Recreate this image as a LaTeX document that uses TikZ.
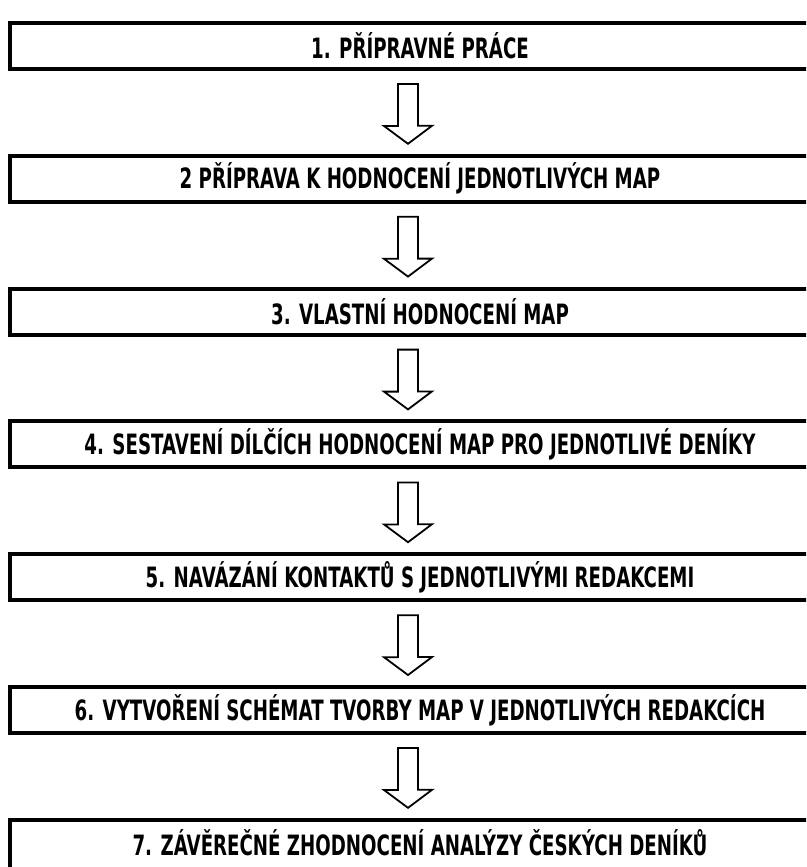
\documentclass[tikz,border=0pt]{standalone}
\usepackage{fontspec}
\newfontfamily\stagefont{DejaVu Sans}[FakeStretch=0.65]
\usetikzlibrary{positioning,calc}
\tikzset{
  stage/.style={draw, line width=4pt, minimum width=820pt, minimum height=46pt,
    inner sep=0pt, font=\stagefont\bfseries\fontsize{28}{28}\selectfont},
  flow/.style={draw, line width=1.8pt, fill=white, line join=miter}
}

\begin{document}
\begin{tikzpicture}[node distance=82.8pt]
  \path[use as bounding box, clip] (0,0) rectangle (806pt,-867pt);
  % Stages
  \node[stage] (s1) at (420pt,-46pt) {1. PŘÍPRAVNÉ PRÁCE};
  \node[stage, below=of s1] (s2) {2 PŘÍPRAVA K HODNOCENÍ JEDNOTLIVÝCH MAP};
  \node[stage, below=of s2] (s3) {3. VLASTNÍ HODNOCENÍ MAP};
  \node[stage, below=of s3] (s4) {4. SESTAVENÍ DÍLČÍCH HODNOCENÍ MAP PRO JEDNOTLIVÉ DENÍKY};
  \node[stage, below=of s4] (s5) {5. NAVÁZÁNÍ KONTAKTŮ S JEDNOTLIVÝMI REDAKCEMI};
  \node[stage, below=of s5] (s6) {6. VYTVOŘENÍ SCHÉMAT TVORBY MAP V JEDNOTLIVÝCH REDAKCÍCH};
  \node[stage, below=of s6, minimum height=56pt, text depth=10pt] (s7) {7. ZÁVĚREČNÉ ZHODNOCENÍ ANALÝZY ČESKÝCH DENÍKŮ};
  % Block arrows between stages
  \foreach \i [count=\j from 2] in {1,...,6}
    \draw[flow] ($(s\i.south)+(-22pt,-13pt)$) -- ++(0,-42pt) -- ++(-14pt,0)
      -- ($(s\j.north)+(-12pt,10pt)$) -- ++(24pt,18pt) -- ++(-14pt,0)
      -- ($(s\i.south)+(-2pt,-13pt)$) -- cycle;
\end{tikzpicture}
\end{document}
